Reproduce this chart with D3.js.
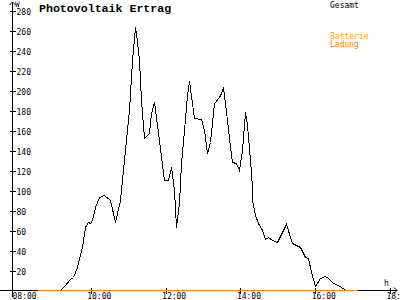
<!DOCTYPE html>
<html><head><meta charset="utf-8">
<script src="https://cdn.jsdelivr.net/npm/d3@7/dist/d3.min.js"></script>
<style>
html,body{margin:0;padding:0;background:#fff;overflow:hidden}
svg{display:block}
text{font-family:"DejaVu Sans Mono",monospace;}
</style></head>
<body>
<svg id="c" width="400" height="300"></svg>
<script>
// ---- data ----
const title = "Photovoltaik Ertrag";
const seriesNames = ["Gesamt", "Batterie", "Ladung"];
const gesamtTimes = ["09:10","09:17","09:27","09:32","09:38","09:46","09:51","09:55","09:59","10:02","10:07","10:13","10:21","10:31","10:39","10:47","10:55","11:01","11:06","11:11","11:13","11:17","11:21","11:25","11:33","11:37","11:41","11:49","11:57","12:04","12:08","12:13","12:17","12:21","12:24","12:29","12:34","12:37","12:45","12:56","13:01","13:06","13:12","13:18","13:25","13:29","13:32","13:38","13:43","13:47","13:53","13:57","14:02","14:07","14:10","14:15","14:18","14:19","14:23","14:29","14:34","14:40","14:45","14:50","14:58","15:13","15:22","15:36","15:44","15:49","15:54","16:00","16:07","16:15","16:21","16:29","16:37","16:46","16:48"];
const gesamtValues = [0,4,11,13,23,43,63,68,67,70,83,93,95,90,68,90,140,180,230,263,257,230,190,152,157,177,188,150,110,110,123,100,63,87,127,160,195,209,172,171,160,137,148,187,193,197,203,170,143,128,127,120,140,178,165,130,103,90,75,67,60,51,53,50,48,66,47,43,33,32,18,4,12,14,12,7,5,1,0];
const ladungTimes = ["08:33","17:07"];
const ladungValues = [0,0];
const yTicks = [20,40,60,80,100,120,140,160,180,200,220,240,260,280];
const xTicks = ["08:00","10:00","12:00","14:00","16:00","18:00"];
const yUnit = "W";
const xUnit = "h";

const toH = s => { const [h,m] = s.split(":").map(Number); return h + m/60; };

const svg = d3.select("#c");
const x = d3.scaleLinear().domain([8,18]).range([16,390]);
const y = d3.scaleLinear().domain([0,280]).range([290.5,10.5]);
const axX = 12.5, axY = 290.5;

// title
svg.append("text").attr("x",39).attr("y",11.5)
  .style("font-family","'Liberation Mono',monospace").style("font-weight","bold")
  .style("font-size","11.6px").attr("fill","#000").text(title);

// legend
const legColors = ["#000000","#FFA500","#FF8000"];
const legY = [7.5, 38.5, 46.5];
seriesNames.forEach((n,i)=>{
  svg.append("text").attr("x",330).attr("y",legY[i]).style("font-size","8px")
    .attr("fill",legColors[i]).text(n);
});

// axes lines
svg.append("line").attr("x1",axX).attr("x2",axX).attr("y1",2).attr("y2",297).attr("stroke","#000").attr("shape-rendering","crispEdges");
svg.append("line").attr("x1",0).attr("x2",397).attr("y1",axY).attr("y2",axY).attr("stroke","#000").attr("shape-rendering","crispEdges");
// arrows
svg.append("path").attr("d",`M${axX-3},${5}L${axX},${2}L${axX+3},${5}`).attr("fill","none").attr("stroke","#000");
svg.append("path").attr("d",`M394,${axY-3}L397,${axY}L394,${axY+3}`).attr("fill","none").attr("stroke","#000");
svg.append("text").attr("x",15).attr("y",6.5).style("font-size","7.5px").text(yUnit);
svg.append("text").attr("x",384).attr("y",285.5).style("font-size","8px").text(xUnit);

// y axis
const gy = svg.append("g").attr("transform",`translate(${axX},0)`)
  .call(d3.axisRight(y).tickValues(yTicks).tickSize(3).tickPadding(4));
gy.select(".domain").remove();
gy.selectAll(".tick line").attr("x1",-3).attr("x2",3).attr("shape-rendering","crispEdges");
gy.selectAll(".tick text").attr("x",4).attr("dy","0.48em").style("font-size","8px").style("font-family","'DejaVu Sans Mono',monospace");

// x axis
const gx = svg.append("g").attr("transform",`translate(0,${axY})`)
  .call(d3.axisBottom(x).tickValues(xTicks.map(toH)).tickFormat((d,i)=>xTicks[i]).tickSize(3));
gx.select(".domain").remove();
gx.selectAll(".tick line").attr("y1",-3).attr("y2",3).attr("shape-rendering","crispEdges")
  .attr("opacity",(d,i)=> i===0?0:1);
gx.selectAll(".tick text").attr("text-anchor","start").attr("x",-4).attr("y",3).attr("dy","0.71em")
  .style("font-size","8px").style("font-family","'DejaVu Sans Mono',monospace");

// lines
const line = d3.line().x(d=>Math.round(x(d[0]))+0.5).y(d=>y(d[1]));
svg.append("path").datum(gesamtTimes.map((t,i)=>[toH(t),gesamtValues[i]]))
  .attr("d",line).attr("fill","none").attr("stroke","#000").attr("stroke-width",1)
  .attr("shape-rendering","crispEdges");
svg.append("path").datum(ladungTimes.map((t,i)=>[toH(t),ladungValues[i]]))
  .attr("d",line).attr("fill","none").attr("stroke","#FF8000").attr("stroke-width",1)
  .attr("shape-rendering","crispEdges");
</script>
</body></html>
